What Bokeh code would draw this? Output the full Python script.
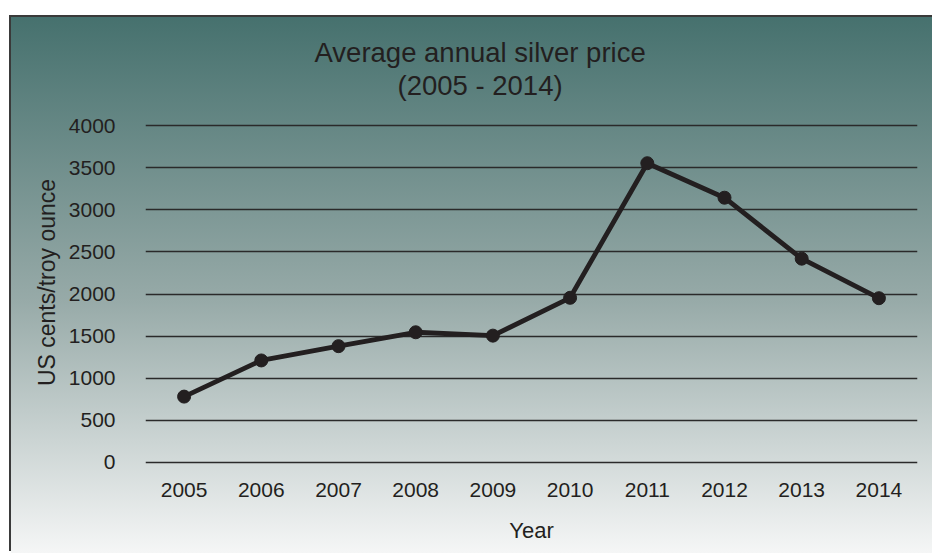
from bokeh.plotting import figure
from bokeh.models import Range1d, FactorRange, SingleIntervalTicker, Title
from bokeh.embed import file_html
from bokeh.resources import INLINE

# Average annual silver price, US cents per troy ounce
years = ["2005", "2006", "2007", "2008", "2009", "2010", "2011", "2012", "2013", "2014"]
prices = [780, 1210, 1380, 1545, 1505, 1955, 3555, 3145, 2420, 1950]

title_lines = ["Average annual silver price", "(2005 - 2014)"]
x_label = "Year"
y_label = "US cents/troy ounce"

INK = "#231f20"
FONT = "Liberation Sans"

# Panel sits 11px in from the left and 17px down, framed by a thin dark edge;
# it runs on past the right-hand side of the page
W, H = 940, 536

p = figure(
    x_range=FactorRange(*years, range_padding=0),
    y_range=Range1d(-27.3, 4300.8),
    width=W,
    height=H,
    min_border_left=134,
    min_border_right=W - 134 - 772,
    min_border_top=83,
    min_border_bottom=H - 83 - 364,
    output_backend="svg",
    toolbar_location=None,
)

# Transparent canvas so the panel gradient shows through
p.background_fill_color = None
p.border_fill_color = None
p.outline_line_color = None
p.styles = {
    "margin": "17px 0 0 11px",
    "box-shadow": "-2px -2px 0 0 #3a3a3a",
    "background-image": "linear-gradient(to bottom, #46716e 0px, #97aaa8 283px, #f5f6f6 536px)",
}

# Horizontal gridlines only
p.xgrid.grid_line_color = None
p.ygrid.grid_line_color = "#2a2a2a"
p.ygrid.grid_line_width = 1.6
p.yaxis.ticker = SingleIntervalTicker(interval=500)

for ax in (p.xaxis[0], p.yaxis[0]):
    ax.axis_line_color = None
    ax.major_tick_line_color = None
    ax.minor_tick_line_color = None
    ax.major_tick_out = 0
    ax.major_tick_in = 0
    ax.major_label_text_font = FONT
    ax.major_label_text_color = INK
    ax.axis_label_text_font = FONT
    ax.axis_label_text_font_style = "normal"
    ax.axis_label_text_color = INK

p.xaxis.major_label_text_font_size = "21px"
p.yaxis.major_label_text_font_size = "21px"
p.xaxis.major_label_standoff = 18
p.yaxis.major_label_standoff = 26
p.xaxis.axis_label = x_label
p.yaxis.axis_label = y_label
p.xaxis.axis_label_text_font_size = "22px"
p.yaxis.axis_label_text_font_size = "23px"
p.xaxis.axis_label_standoff = 18
p.yaxis.axis_label_standoff = 6

# Price line with round markers
p.line(years, prices, line_color=INK, line_width=4.8, line_join="round")
p.scatter(years, prices, size=13, fill_color=INK, line_color=INK)

# Two-line title, each line centred over the whole panel
p.title.text = ""
offsets = [169, 252]
for line, off in zip(reversed(title_lines), reversed(offsets)):
    p.add_layout(Title(
        text=line, align="left", offset=off, standoff=0,
        text_font=FONT, text_font_size="27.5px", text_font_style="normal",
        text_color=INK,
    ), "above")

open("out.html", "w").write(file_html(p, INLINE))
